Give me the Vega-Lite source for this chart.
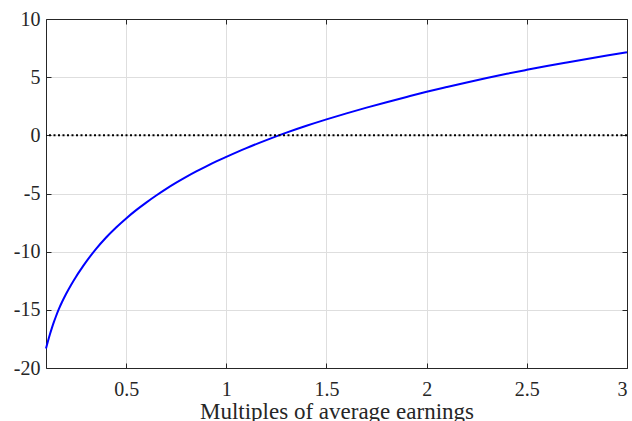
{
  "$schema": "https://vega.github.io/schema/vega-lite/v6.json",
  "width": 581,
  "height": 349,
  "autosize": "none",
  "padding": {"left": 46, "top": 19, "right": 5, "bottom": 53},
  "background": "white",
  "config": {
    "view": {"stroke": null},
    "font": "Liberation Serif, DejaVu Serif, serif",
    "axis": {
      "labelFont": "Liberation Serif, DejaVu Serif, serif",
      "titleFont": "Liberation Serif, DejaVu Serif, serif",
      "labelFontSize": 20,
      "titleFontSize": 23,
      "labelColor": "#262626",
      "titleColor": "#262626",
      "titleFontWeight": "normal",
      "domain": true,
      "domainColor": "#262626",
      "domainWidth": 1,
      "tickColor": "#262626",
      "tickSize": -5,
      "gridColor": "#dedede",
      "gridWidth": 1
    }
  },
  "datasets": {
    "curve": [
      {"x": 0.1, "y": -18.32},
      {"x": 0.11, "y": -17.68},
      {"x": 0.12, "y": -17.08},
      {"x": 0.13, "y": -16.53},
      {"x": 0.14, "y": -16.02},
      {"x": 0.15, "y": -15.55},
      {"x": 0.165, "y": -14.9},
      {"x": 0.18, "y": -14.33},
      {"x": 0.2, "y": -13.64},
      {"x": 0.225, "y": -12.86},
      {"x": 0.25, "y": -12.15},
      {"x": 0.275, "y": -11.5},
      {"x": 0.3, "y": -10.88},
      {"x": 0.35, "y": -9.76},
      {"x": 0.4, "y": -8.78},
      {"x": 0.45, "y": -7.92},
      {"x": 0.5, "y": -7.14},
      {"x": 0.55, "y": -6.43},
      {"x": 0.6, "y": -5.78},
      {"x": 0.65, "y": -5.17},
      {"x": 0.7, "y": -4.6},
      {"x": 0.75, "y": -4.07},
      {"x": 0.8, "y": -3.57},
      {"x": 0.85, "y": -3.1},
      {"x": 0.9, "y": -2.66},
      {"x": 0.95, "y": -2.24},
      {"x": 1.0, "y": -1.85},
      {"x": 1.1, "y": -1.1},
      {"x": 1.2, "y": -0.41},
      {"x": 1.3, "y": 0.23},
      {"x": 1.4, "y": 0.82},
      {"x": 1.5, "y": 1.37},
      {"x": 1.6, "y": 1.89},
      {"x": 1.7, "y": 2.38},
      {"x": 1.8, "y": 2.85},
      {"x": 1.9, "y": 3.3},
      {"x": 2.0, "y": 3.74},
      {"x": 2.1, "y": 4.15},
      {"x": 2.2, "y": 4.55},
      {"x": 2.3, "y": 4.93},
      {"x": 2.4, "y": 5.29},
      {"x": 2.5, "y": 5.63},
      {"x": 2.6, "y": 5.96},
      {"x": 2.7, "y": 6.27},
      {"x": 2.8, "y": 6.57},
      {"x": 2.9, "y": 6.86},
      {"x": 3.0, "y": 7.14}
    ],
    "zero": [{"y": 0}]
  },
  "layer": [
    {
      "data": {"name": "curve"},
      "mark": {"type": "line", "opacity": 0},
      "encoding": {
        "x": {"field": "x", "type": "quantitative", "scale": {"domain": [0.1, 3], "nice": false, "zero": false},
              "axis": {"orient": "top", "labels": false, "grid": false, "ticks": true, "title": null, "values": [0.5, 1, 1.5, 2, 2.5, 3]}},
        "y": {"field": "y", "type": "quantitative", "scale": {"domain": [-20, 10], "nice": false, "zero": false},
              "axis": {"orient": "right", "labels": false, "grid": false, "ticks": true, "title": null, "values": [-20, -15, -10, -5, 0, 5, 10]}}
      }
    },
    {
      "data": {"name": "curve"},
      "mark": {"type": "line", "color": "#0000ff", "strokeWidth": 2, "interpolate": "monotone"},
      "encoding": {
        "x": {"field": "x", "type": "quantitative", "scale": {"domain": [0.1, 3], "nice": false, "zero": false},
              "axis": {"orient": "bottom", "title": "Multiples of average earnings", "values": [0.5, 1, 1.5, 2, 2.5, 3],
                       "grid": true, "ticks": true, "labelExpr": "'' + datum.value", "labelPadding": 16, "titlePadding": 1}},
        "y": {"field": "y", "type": "quantitative", "scale": {"domain": [-20, 10], "nice": false, "zero": false},
              "axis": {"orient": "left", "title": null, "values": [-20, -15, -10, -5, 0, 5, 10],
                       "grid": true, "ticks": true, "labelExpr": "'' + datum.value", "labelPadding": 11}}
      }
    },
    {
      "data": {"name": "zero"},
      "mark": {"type": "rule", "color": "black", "strokeWidth": 2, "strokeDash": [2, 2.5]},
      "encoding": {
        "y": {"field": "y", "type": "quantitative", "scale": {"domain": [-20, 10], "nice": false, "zero": false}, "axis": null}
      }
    }
  ],
  "resolve": {"scale": {"x": "independent", "y": "independent"}, "axis": {"x": "independent", "y": "independent"}}
}
